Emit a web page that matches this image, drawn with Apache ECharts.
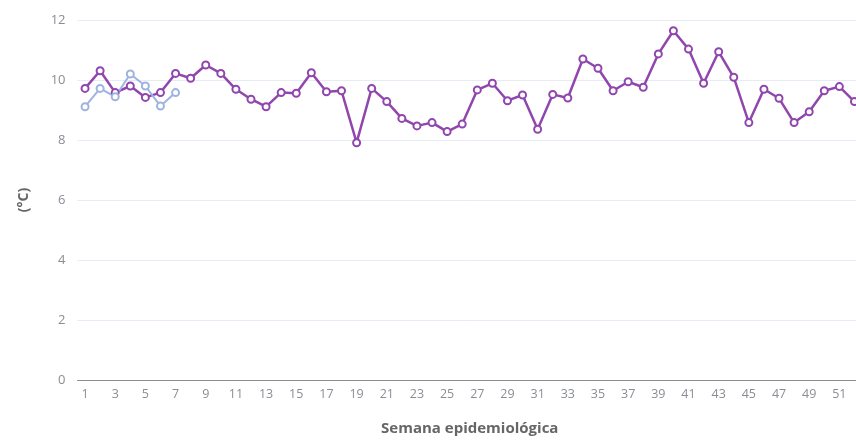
<!DOCTYPE html>
<html>
<head>
<meta charset="utf-8">
<script src="https://cdn.jsdelivr.net/npm/echarts@6/dist/echarts.min.js"></script>
<style>
  html, body { margin: 0; padding: 0; background: #fff; }
  #chart { width: 856px; height: 441px; }
</style>
</head>
<body>
<div id="chart"></div>
<script>
// Epidemiological weeks 1..52
const weeks = Array.from({ length: 52 }, (_, i) => String(i + 1));

// Weekly mean temperature (°C), previous year – full 52 weeks
const tempPrevYear = [
  9.72, 10.31, 9.58, 9.80, 9.42, 9.58, 10.22, 10.06, 10.50, 10.22,
  9.69, 9.36, 9.11, 9.58, 9.56, 10.24, 9.61, 9.64, 7.91, 9.72,
  9.28, 8.72, 8.47, 8.58, 8.28, 8.53, 9.67, 9.89, 9.31, 9.50,
  8.36, 9.52, 9.40, 10.70, 10.39, 9.64, 9.94, 9.76, 10.87, 11.64,
  11.03, 9.89, 10.94, 10.09, 8.58, 9.69, 9.39, 8.58, 8.94, 9.64,
  9.78, 9.28
];

// Weekly mean temperature (°C), current year – weeks reported so far
const tempCurrYear = [9.11, 9.72, 9.44, 10.20, 9.80, 9.13, 9.58];

// Y axis ticks
const yMin = 0, yMax = 12, yStep = 2;

const chart = echarts.init(document.getElementById('chart'));
const font = "'Open Sans', 'Noto Sans', sans-serif";
const purple = '#9046ad';
const lightBlue = '#9fb3e1';

chart.setOption({
  animation: false,
  grid: { left: 77.5, right: -6, top: 20, bottom: 61, containLabel: false, outerBoundsMode: 'none' },
  xAxis: {
    type: 'category',
    data: weeks,
    boundaryGap: true,
    name: 'Semana epidemiológica',
    nameLocation: 'middle',
    nameGap: 41,
    nameTextStyle: { fontFamily: font, fontSize: 15, fontWeight: 'bold', color: '#666' },
    axisLine: { lineStyle: { color: '#8a8d94' } },
    axisTick: { alignWithLabel: true, interval: 1, length: 4, lineStyle: { color: '#8a8d94' } },
    axisLabel: { interval: 1, fontFamily: font, fontSize: 12.5, color: '#8a8d94', margin: 8 }
  },
  yAxis: {
    type: 'value',
    min: yMin,
    max: yMax,
    interval: yStep,
    name: '(°C)',
    nameLocation: 'middle',
    nameGap: 46,
    nameTextStyle: { fontFamily: font, fontSize: 14, fontWeight: 'bold', color: '#666' },
    axisLabel: { fontFamily: font, fontSize: 13, color: '#8a8d94', margin: 12 },
    splitLine: { lineStyle: { color: '#e6ebf4' } }
  },
  series: [
    {
      type: 'line',
      data: tempPrevYear,
      symbol: 'emptyCircle',
      symbolSize: 7,
      color: purple,
      lineStyle: { width: 2.5, color: purple },
      itemStyle: { color: purple, borderWidth: 1.8 }
    },
    {
      type: 'line',
      data: tempCurrYear,
      symbol: 'emptyCircle',
      symbolSize: 7,
      color: lightBlue,
      lineStyle: { width: 2, color: lightBlue },
      itemStyle: { color: lightBlue, borderWidth: 1.8 }
    }
  ]
});
</script>
</body>
</html>
